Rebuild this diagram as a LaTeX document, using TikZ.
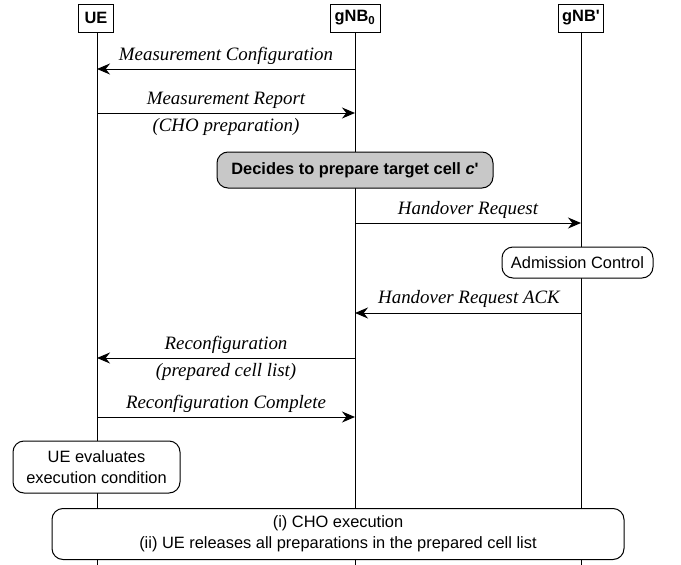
\documentclass[tikz,border=0pt]{standalone}
\usepackage{fontspec}
\setmainfont{Liberation Serif}
\setsansfont{Liberation Sans}
\usetikzlibrary{arrows.meta}
\begin{document}
\begin{tikzpicture}[x=1pt,y=-1pt,
  hdr/.style={draw,line width=1pt,fill=white,font=\sffamily\bfseries\fontsize{16.4}{18}\selectfont,inner sep=0pt,minimum height=28pt},
  life/.style={line width=1pt},
  msg/.style={line width=1pt,-{Stealth[length=13pt,width=11pt]}},
  lbl/.style={font=\itshape\fontsize{18.9}{21}\selectfont,inner sep=0pt},
  act/.style={draw,line width=1pt,rounded corners=11pt,fill=white,font=\sffamily\fontsize{16.4}{20.5}\selectfont,align=center,inner sep=0pt}]
\useasboundingbox (0,0) rectangle (681,565);
% headers
\node[hdr,minimum width=35pt] (ue) at (96,18) {UE};
\node[hdr,minimum width=50pt] (gnb) at (355,18) {gNB\textsubscript{0}};
\node[hdr,minimum width=45pt] (gnbt) at (581,18) {gNB\textquotesingle};
% lifeline ends
\coordinate (ueE) at (97,565);
\coordinate (gnbE) at (355,565);
\coordinate (gnbtE) at (581,565);
\draw[life] (ue.south -| ueE) -- (ueE);
\draw[life] (gnb.south) -- (gnbE);
\draw[life] (gnbt.south) -- (gnbtE);
% message points
\coordinate (a1) at (355,69);  \coordinate (b1) at (97,69);
\coordinate (a2) at (97,113);  \coordinate (b2) at (355,113);
\coordinate (a3) at (355,223); \coordinate (b3) at (581,223);
\coordinate (a4) at (581,313); \coordinate (b4) at (355,313);
\coordinate (a5) at (355,358); \coordinate (b5) at (97,358);
\coordinate (a6) at (97,417);  \coordinate (b6) at (355,417);
\draw[msg] (a1) -- (b1);
\draw[msg] (a2) -- (b2);
\draw[msg] (a3) -- (b3);
\draw[msg] (a4) -- (b4);
\draw[msg] (a5) -- (b5);
\draw[msg] (a6) -- (b6);
% labels
\node[lbl] (l1) at (226,56) {Measurement Configuration};
\node[lbl] (l2) at (226,100) {Measurement Report};
\node[lbl] (l2b) at (226,127) {(CHO preparation)};
\node[lbl] (l3) at (468,210) {Handover Request};
\node[lbl] (l4) at (469,299) {Handover Request ACK};
\node[lbl] (l5) at (226,345) {Reconfiguration};
\node[lbl] (l5b) at (226,372) {(prepared cell list)};
\node[lbl] (l6) at (226,404) {Reconfiguration Complete};
% activity boxes
\node[act,fill={rgb,255:red,200;green,200;blue,200},font=\sffamily\bfseries\fontsize{16.4}{18}\selectfont,minimum width=276pt,minimum height=36pt] (dec) at (355,170) {Decides to prepare target cell \textit{c}\textquotesingle};
\node[act,minimum width=151pt,minimum height=31pt] (adm) at (577.5,262.5) {Admission Control};
\node[act,minimum width=167pt,minimum height=52pt] (eval) at (96.5,467) {UE evaluates\\execution condition};
\node[act,minimum width=572pt,minimum height=51pt] (exec) at (338,534) {(i) CHO execution\\(ii) UE releases all preparations in the prepared cell list};
\end{tikzpicture}
\end{document}
